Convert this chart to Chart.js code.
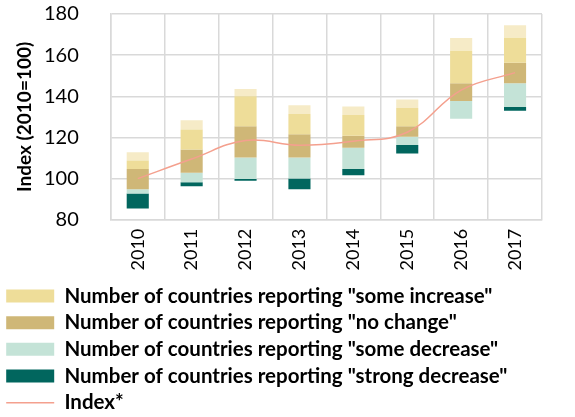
<!DOCTYPE html>
<html>
<head>
<meta charset="utf-8">
<script src="https://cdn.jsdelivr.net/npm/chart.js"></script>
<style>
  html, body { margin: 0; padding: 0; background: #fff; }
  #wrap { width: 575px; height: 417px; }
</style>
</head>
<body>
<div id="wrap"><canvas id="chart" width="575" height="417"></canvas></div>
<script>
// years on the x axis
const years = ["2010", "2011", "2012", "2013", "2014", "2015", "2016", "2017"];

// index line (2010 = 100)
const indexValues = [100, 109.5, 118.5, 116.2, 118.2, 122.5, 143, 151.5];

// floating bar segments, [from, to] on the index scale
const strongDecrease = [[85.5, 92.8], [96.3, 98.2], [98.9, 99.8], [94.8, 100], [101.6, 104.7], [112.2, 116.3], null, [133, 134.8]];
const someDecrease = [[92.8, 94.8], [98.2, 102.9], [99.8, 110.2], [100, 110.2], [104.7, 115], [116.3, 120.3], [129.1, 137.7], [134.8, 146.3]];
const noChange = [[94.8, 104.7], [102.9, 114.1], [110.2, 125.4], [110.2, 121.5], [115, 120.8], [120.3, 125.5], [137.7, 146.3], [146.3, 156.3]];
const someIncrease = [[104.7, 108.8], [114.1, 123.9], [125.4, 140], [121.5, 131.4], [120.8, 130.9], [125.5, 134.3], [146.3, 162.1], [156.3, 168.4]];
const strongIncrease = [[108.8, 112.8], [123.9, 128.3], [140, 143.6], [131.4, 135.6], [130.9, 135.1], [134.3, 138.4], [162.1, 168.3], [168.4, 174.5]];

const yTicks = [80, 100, 120, 140, 160, 180];

const COLORS = {
  strongDec: "#01665E",
  someDec: "#C4E3D7",
  noChange: "#CFB777",
  someInc: "#EEDD99",
  strongInc: "#F6EBC7",
  line: "#F4A08E",
  grid: "#D9D9D9",
  text: "#000000",
};

const FONT = "Lato, 'Noto Sans', sans-serif";

function barSet(label, data, color) {
  return {
    type: "bar",
    label,
    data,
    backgroundColor: color,
    borderWidth: 0,
    pointStyle: "rect",
    order: 1,
    categoryPercentage: 1,
    barPercentage: 0.41,
  };
}

new Chart(document.getElementById("chart"), {
  data: {
    labels: years,
    datasets: [
      barSet('Number of countries reporting "some increase"', someIncrease, COLORS.someInc),
      barSet('Number of countries reporting "no change"', noChange, COLORS.noChange),
      barSet('Number of countries reporting "some decrease"', someDecrease, COLORS.someDec),
      barSet('Number of countries reporting "strong decrease"', strongDecrease, COLORS.strongDec),
      barSet('Number of countries reporting "strong increase"', strongIncrease, COLORS.strongInc),
      {
        type: "line",
        label: "Index*",
        data: indexValues,
        borderColor: COLORS.line,
        backgroundColor: COLORS.line,
        borderWidth: 1.5,
        pointRadius: 0,
        pointStyle: "line",
        tension: 0.4,
        order: 0,
      },
    ],
  },
  options: {
    responsive: false,
    animation: false,
    layout: { padding: { top: 0, right: 33, left: 0, bottom: -6 } },
    plugins: {
      tooltip: { enabled: false },
      legend: {
        position: "bottom",
        align: "start",
        labels: {
          color: COLORS.text,
          font: { family: FONT, size: 20.5, weight: "bold" },
          usePointStyle: true,
          pointStyleWidth: 48,
          boxHeight: 13,
          padding: 6.2,
          filter: (item) => !item.text.includes("strong increase"),
          sort: (a, b) => a.datasetIndex - b.datasetIndex,
        },
      },
    },
    scales: {
      x: {
        stacked: true,
        offset: true,
        grid: { color: COLORS.grid, lineWidth: 1.5, offset: true, drawTicks: false },
        border: { color: COLORS.grid, width: 1.5 },
        ticks: {
          color: COLORS.text,
          font: { family: FONT, size: 18 },
          minRotation: 90,
          maxRotation: 90,
          padding: 9,
        },
      },
      y: {
        stacked: false,
        min: 80,
        max: 180,
        afterBuildTicks: (axis) => { axis.ticks = yTicks.map((v) => ({ value: v })); },
        grid: {
          color: COLORS.grid,
          lineWidth: 1.5,
          drawTicks: true,
          tickLength: 30,
          tickColor: "rgba(0,0,0,0)",
        },
        border: { color: COLORS.grid, width: 1.5 },
        ticks: {
          color: COLORS.text,
          font: { family: FONT, size: 20 },
          padding: 2,
        },
        title: {
          display: true,
          text: "Index (2010=100)",
          color: COLORS.text,
          font: { family: FONT, size: 19, weight: "bold" },
          padding: { top: 13.6, bottom: 5.6 },
        },
      },
    },
  },
});
</script>
</body>
</html>
